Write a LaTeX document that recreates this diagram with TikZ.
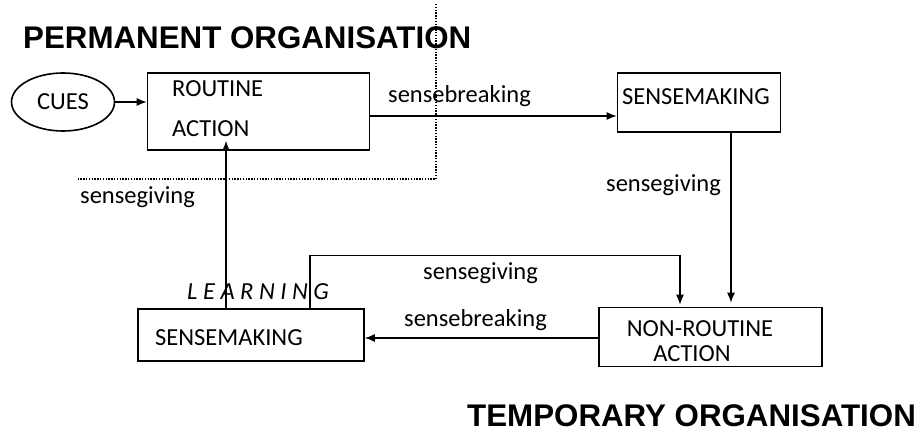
\documentclass[tikz,border=0pt]{standalone}
\usepackage{fontspec}
\setmainfont{Carlito}
\newfontfamily\headfont{Liberation Sans}
\usetikzlibrary{shapes.geometric, arrows.meta, positioning, calc}

\begin{document}
\begin{tikzpicture}[x=1pt, y=-1pt,
    box/.style={draw, line width=1.6pt, inner sep=0pt},
    flow/.style={line width=1.3pt, -{Latex[length=10pt, width=8pt]}},
    lbl/.style={font=\fontsize{24.5}{28}\selectfont, inner sep=0pt, anchor=west},
    heading/.style={font=\headfont\bfseries\fontsize{31.3}{34}\selectfont, inner sep=0pt, anchor=west},
    boundary/.style={line width=1.6pt, dash pattern=on 1.4pt off 1.4pt}]
  \useasboundingbox (0,0) rectangle (921,433);

  % boundary between the two organisations
  \draw[boundary] (436,4) -- (436,179) -- (77,179);

  \node[heading] (permanent) at (23,38) {PERMANENT ORGANISATION};
  \node[heading] (temporary) at (467,416) {TEMPORARY ORGANISATION};

  % boxes
  \node[box, ellipse, minimum width=103pt, minimum height=58pt, font=\fontsize{24.5}{28}\selectfont] (cues) at (63,102) {CUES};
  \node[box, minimum width=222pt, minimum height=77pt] (routine) at (258.5,111.5) {};
  \node[box, minimum width=163pt, minimum height=59pt] (smtop) at (699,102.5) {};
  \node[box, minimum width=223pt, minimum height=59pt] (nonroutine) at (710.5,337) {};
  \node[box, minimum width=226pt, minimum height=52pt] (smbottom) at (251,335) {};

  % box texts
  \node[lbl] (routine1) at (172,89) {ROUTINE};
  \node[lbl] (routine2) at (172,129) {ACTION};
  \node[lbl] (smtoptxt) at (622,97) {SENSEMAKING};
  \node[lbl, anchor=center] (nonroutine1) at (700,329) {NON-ROUTINE};
  \node[lbl, anchor=center] (nonroutine2) at (692,354) {ACTION};
  \node[lbl] (smbottomtxt) at (155,338) {SENSEMAKING};
  \node[lbl, font=\itshape\fontsize{24.5}{28}\selectfont] (learning) at (187,292) {L E A R N I N G};

  % connectors
  \draw[flow] (cues.east) -- (cues.east -| routine.west);
  \draw[flow] ([yshift=-4.5pt]routine.east) -- ([yshift=-4.5pt]routine.east -| smtop.west);
  \draw[flow, shorten >=4pt] ([xshift=32pt]smtop.south) -- ([xshift=32pt]smtop.south |- nonroutine.north);
  \draw[flow] ([yshift=-1pt]nonroutine.west) -- ([yshift=-1pt]nonroutine.west -| smbottom.east);
  \draw[flow, shorten >=2pt] ([xshift=59pt]smbottom.north) -- ++(0,-53) -| ([xshift=-30.5pt]nonroutine.north);
  \draw[flow] ([xshift=-25pt]smbottom.north) -- ([xshift=-25pt, yshift=10pt]smbottom.north |- routine.south);

  % connector labels
  \node[lbl] (breaktop) at (388,96) {sensebreaking};
  \node[lbl] (giveright) at (606,185) {sensegiving};
  \node[lbl] (givemid) at (423,273) {sensegiving};
  \node[lbl] (breakbottom) at (404,320) {sensebreaking};
  \node[lbl] (giveleft) at (80,197) {sensegiving};
\end{tikzpicture}
\end{document}
